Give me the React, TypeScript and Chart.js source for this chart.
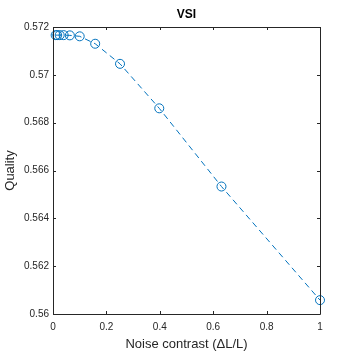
import React, { useEffect, useRef } from "react";
import { Chart, registerables } from "chart.js";

Chart.register(...registerables);

const noiseContrast = [0.01, 0.0158, 0.0251, 0.0398, 0.0631, 0.1, 0.158, 0.251, 0.398, 0.631, 1];
const quality = [0.57166, 0.57166, 0.57166, 0.57166, 0.57165, 0.57161, 0.5713, 0.57046, 0.5686, 0.56533, 0.56058];
const xTicks = [0, 0.2, 0.4, 0.6, 0.8, 1];
const yTicks = [0.56, 0.562, 0.564, 0.566, 0.568, 0.57, 0.572];
const chartTitle = "VSI";

const BLUE = "#0072BD";
const AXIS = "#262626";
const FONT = "'Liberation Sans', Arial, sans-serif";

const boxPlugin = {
  id: "matlabBox",
  afterDraw(chart: any) {
    const { ctx, chartArea: a, scales } = chart;
    const tl = 3;
    ctx.save();
    ctx.strokeStyle = AXIS;
    ctx.lineWidth = 1;
    ctx.beginPath();
    ctx.rect(Math.round(a.left) + 0.5, Math.round(a.top) + 0.5, Math.round(a.right - a.left), Math.round(a.bottom - a.top));
    ctx.stroke();
    ctx.beginPath();
    for (const v of xTicks) {
      const x = Math.round(scales.x.getPixelForValue(v)) + 0.5;
      ctx.moveTo(x, a.bottom);
      ctx.lineTo(x, a.bottom - tl);
      ctx.moveTo(x, a.top);
      ctx.lineTo(x, a.top + tl);
    }
    for (const v of yTicks) {
      const y = Math.round(scales.y.getPixelForValue(v)) + 0.5;
      ctx.moveTo(a.left, y);
      ctx.lineTo(a.left + tl, y);
      ctx.moveTo(a.right, y);
      ctx.lineTo(a.right - tl, y);
    }
    ctx.stroke();
    ctx.fillStyle = "#000";
    ctx.font = `bold 12px ${FONT}`;
    ctx.textAlign = "center";
    ctx.textBaseline = "middle";
    ctx.fillText(chartTitle, (a.left + a.right) / 2, 15);
    ctx.restore();
  },
};

export default function App() {
  const ref = useRef<HTMLCanvasElement>(null);
  useEffect(() => {
    const chart = new Chart(ref.current!, {
      type: "scatter",
      data: {
        datasets: [
          {
            data: noiseContrast.map((x, i) => ({ x, y: quality[i] })),
            showLine: true,
            borderColor: BLUE,
            backgroundColor: "rgba(0,0,0,0)",
            borderWidth: 1,
            borderDash: [6, 4],
            pointRadius: 4.5,
            pointBorderWidth: 1,
            pointBorderColor: BLUE,
            pointBackgroundColor: "rgba(0,0,0,0)",
            clip: false as any,
          },
        ],
      },
      options: {
        animation: false,
        responsive: false,
        layout: { padding: { left: 0, right: 34, top: 27, bottom: 0 } },
        plugins: {
          legend: { display: false },
          tooltip: { enabled: false },
          title: { display: false },
        },
        scales: {
          x: {
            type: "linear",
            min: 0,
            max: 1,
            afterBuildTicks: (s: any) => {
              s.ticks = xTicks.map((v) => ({ value: v }));
            },
            afterFit: (s: any) => {
              s.height = 40;
            },
            grid: { display: false, drawTicks: false },
            border: { display: false },
            ticks: {
              color: AXIS,
              padding: 7,
              maxRotation: 0,
              font: { family: FONT, size: 10 },
              callback: (v: any) => String(Number(Number(v).toFixed(3))),
            },
            title: {
              display: true,
              text: "Noise contrast (\u0394L/L)",
              color: AXIS,
              font: { family: FONT, size: 13 },
              padding: { top: 0, bottom: 2.2 },
            },
          },
          y: {
            type: "linear",
            min: 0.56,
            max: 0.572,
            afterBuildTicks: (s: any) => {
              s.ticks = yTicks.map((v) => ({ value: v }));
            },
            afterFit: (s: any) => {
              s.width = 53;
            },
            grid: { display: false, drawTicks: false },
            border: { display: false },
            ticks: {
              color: AXIS,
              padding: 4,
              font: { family: FONT, size: 10 },
              callback: (v: any) => String(Number(Number(v).toFixed(3))),
            },
            title: {
              display: true,
              text: "Quality",
              color: AXIS,
              font: { family: FONT, size: 13 },
              padding: { top: 2.2, bottom: 0 },
            },
          },
        },
      },
      plugins: [boxPlugin],
    });
    return () => chart.destroy();
  }, []);
  return (
    <div style={{ position: "fixed", left: 0, top: 0, width: 354, height: 354, background: "#fff" }}>
      <canvas ref={ref} width={354} height={354} style={{ width: 354, height: 354 }} />
    </div>
  );
}
